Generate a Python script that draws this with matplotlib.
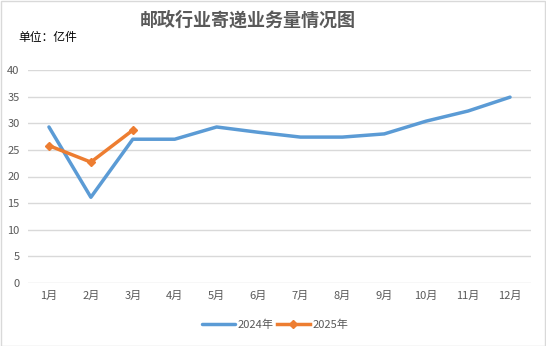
import matplotlib
matplotlib.use("Agg")
import matplotlib.pyplot as plt
from matplotlib.patches import Rectangle

plt.rcParams['font.family'] = ['Noto Sans CJK SC', 'DejaVu Sans']

months = ["1月", "2月", "3月", "4月", "5月", "6月", "7月", "8月", "9月", "10月", "11月", "12月"]
vol_2024 = [29.3, 16.1, 27.0, 27.0, 29.3, 28.3, 27.4, 27.4, 28.0, 30.4, 32.3, 34.9]
vol_2025 = [25.8, 22.7, 28.7]
yticks = [0, 5, 10, 15, 20, 25, 30, 35, 40]

W, H = 546, 346
fig = plt.figure(figsize=(W / 100, H / 100), dpi=100)
ax = fig.add_axes([28 / W, 63 / H, 503 / W, 213 / H])

x = list(range(len(months)))
ax.plot(x, vol_2024, color="#5B9BD5", lw=2.5, label="2024年", solid_capstyle="round")
ax.plot(x[:len(vol_2025)], vol_2025, color="#ED7D31", lw=2.5, marker="D", ms=4.5,
        label="2025年")

ax.set_xlim(-0.5, len(months) - 0.5)
ax.set_ylim(0, 40)
ax.set_yticks(yticks)
ax.set_xticks(x)
ax.set_xticklabels(months)
ax.grid(axis="y", color="#D9D9D9", lw=1)
ax.set_axisbelow(True)
for s in ax.spines.values():
    s.set_visible(False)
ax.tick_params(length=0, colors="#595959", labelsize=8, pad=6)

fig.text(248 / W, 1 - 20 / H, "邮政行业寄递业务量情况图", ha="center", va="center",
         fontsize=13, fontweight="bold", color="#595959")
fig.text(18 / W, 1 - 38 / H, "单位：亿件", ha="left", va="center", fontsize=8.5, color="black")

leg = fig.legend(loc="center", bbox_to_anchor=(275 / W, 1 - 325 / H), ncol=2, frameon=False,
                 fontsize=8, handlelength=3, columnspacing=0.3, handletextpad=0.2)
for t in leg.get_texts():
    t.set_color("#595959")

fig.patches.append(Rectangle((0.5 / W, 0.5 / H), 1 - 1.5 / W, 1 - 1.5 / H, transform=fig.transFigure,
                             fill=False, edgecolor="#D9D9D9", lw=1))

fig.savefig("out.png", dpi=100)
